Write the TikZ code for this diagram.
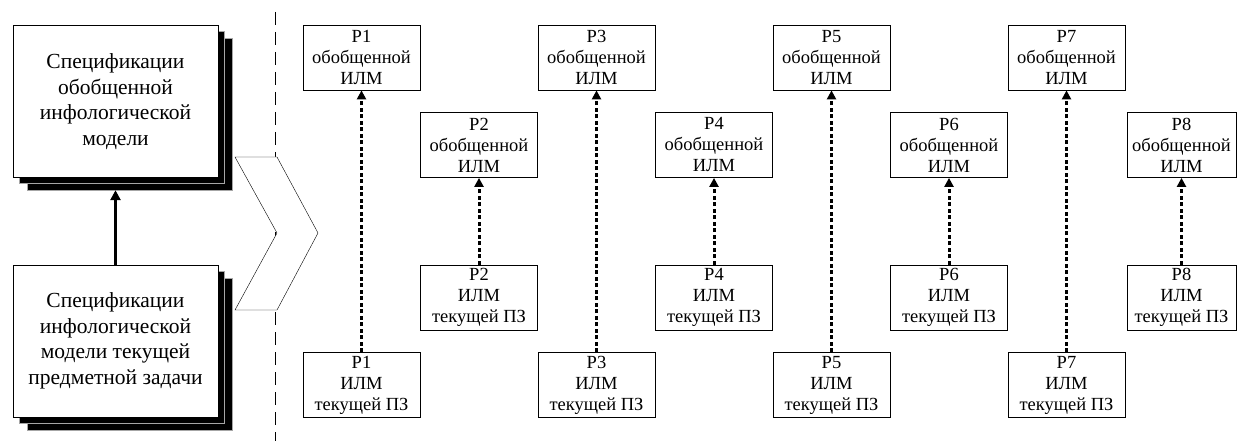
\documentclass[tikz,border=0pt]{standalone}
\usepackage{fontspec}
\setmainfont{Liberation Serif}
\usepackage{tikz}
\usetikzlibrary{calc,arrows.meta,positioning,shapes.geometric}
\usepackage{xcolor}

\tikzset{
  bigbox/.style={draw,thick,fill=white,minimum width=205pt,minimum height=152pt,inner sep=0pt,align=center,font=\fontsize{21.5}{25.5}\selectfont},
  shbox/.style={draw=gray!70,line width=0.4pt,fill=black,minimum width=205pt,minimum height=152pt,inner sep=0pt},
  pbox/.style={draw,thick,fill=white,minimum width=117pt,minimum height=65pt,inner sep=0pt,align=center,font=\fontsize{18.5}{21}\selectfont},
  dotarrow/.style={line width=3pt,dash pattern=on 4pt off 2.5pt,-{Triangle[length=9pt,width=9pt]}},
}

\begin{document}
\begin{tikzpicture}[x=1pt,y=-1pt]
\useasboundingbox (0,0) rectangle (1237,441);
% left part
\node[shbox] (topSh2) at (130,114) {};
\node[shbox] (topSh1) at (122,107) {};
\node[bigbox] (specTop) at (115.5,101.5) {Спецификации\\обобщенной\\инфологической\\модели};
\node[shbox] (botSh2) at (130,354) {};
\node[shbox] (botSh1) at (122,347) {};
\node[bigbox] (specBot) at (115.5,341) {Спецификации\\инфологической\\модели текущей\\предметной задачи};
\draw[line width=2.6pt,-{Triangle[length=10pt,width=10pt]}] (specBot.north) -- (specBot.north |- topSh2.south);
% separator and chevron
\coordinate (sepA) at (275,12);
\coordinate (sepB) at (275,441);
\draw[thick,dash pattern=on 13pt off 7pt] (sepA) -- (sepB);
\draw[fill=white] (235,157) -- (277,157) -- (318,233) -- (277,310) -- (235,310) -- (277,233) -- cycle;
% P boxes
\node[pbox] (p1t) at (361.5,57.5) {Р1\\обобщенной\\ИЛМ};
\node[pbox] (p1b) at (361.5,385) {Р1\\ИЛМ\\текущей ПЗ};
\node[pbox] (p2t) at (479,145) {Р2\\обобщенной\\ИЛМ};
\node[pbox] (p2b) at (479,297.5) {Р2\\ИЛМ\\текущей ПЗ};
\node[pbox] (p3t) at (596.5,57.5) {Р3\\обобщенной\\ИЛМ};
\node[pbox] (p3b) at (596.5,385) {Р3\\ИЛМ\\текущей ПЗ};
\node[pbox] (p4t) at (714,145) {Р4\\обобщенной\\ИЛМ};
\node[pbox] (p4b) at (714,297.5) {Р4\\ИЛМ\\текущей ПЗ};
\node[pbox] (p5t) at (831.5,57.5) {Р5\\обобщенной\\ИЛМ};
\node[pbox] (p5b) at (831.5,385) {Р5\\ИЛМ\\текущей ПЗ};
\node[pbox] (p6t) at (949,145) {Р6\\обобщенной\\ИЛМ};
\node[pbox] (p6b) at (949,297.5) {Р6\\ИЛМ\\текущей ПЗ};
\node[pbox] (p7t) at (1066.5,57.5) {Р7\\обобщенной\\ИЛМ};
\node[pbox] (p7b) at (1066.5,385) {Р7\\ИЛМ\\текущей ПЗ};
\node[pbox,minimum width=109pt] (p8t) at (1181.5,145) {Р8\\обобщенной\\ИЛМ};
\node[pbox,minimum width=109pt] (p8b) at (1181.5,297.5) {Р8\\ИЛМ\\текущей ПЗ};
% links
\draw[dotarrow] (p1b) -- (p1t);
\draw[dotarrow] (p2b) -- (p2t);
\draw[dotarrow] (p3b) -- (p3t);
\draw[dotarrow] (p4b) -- (p4t);
\draw[dotarrow] (p5b) -- (p5t);
\draw[dotarrow] (p6b) -- (p6t);
\draw[dotarrow] (p7b) -- (p7t);
\draw[dotarrow] (p8b) -- (p8t);
\end{tikzpicture}
\end{document}
